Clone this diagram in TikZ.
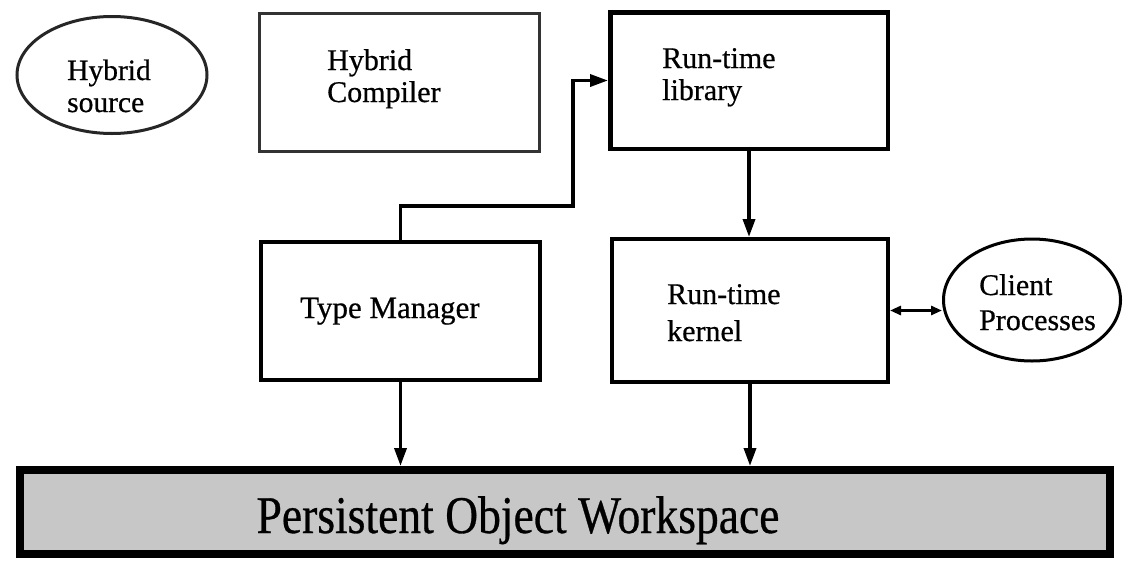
\documentclass[tikz,border=0pt]{standalone}
\usepackage{fontspec}
\setmainfont{Liberation Serif}[FakeBold=0.6]
\usetikzlibrary{arrows.meta,shapes.geometric}
\newcommand{\twoln}[2]{\begin{tabular}[t]{@{}l@{}}#1\\#2\end{tabular}}
\begin{document}
\begin{tikzpicture}[x=1pt,y=-1pt,
  boxnode/.style={draw=black, line width=4pt, rectangle, inner sep=0pt},
  ovalnode/.style={draw=black, line width=3pt, ellipse, inner sep=0pt},
  lbl/.style={anchor=base west, inner sep=0pt, align=left},
  conn/.style={line width=3.5pt, -{Triangle[length=18pt,width=12pt]}},
  dblconn/.style={line width=3pt, {Triangle[length=11pt,width=9pt]}-{Triangle[length=11pt,width=9pt]}}
]
\useasboundingbox (0,0) rectangle (1126,560);

% shapes
\node[ovalnode, draw=black!85, minimum width=190pt, minimum height=117pt] (src) at (112,75) {};
\node[boxnode, draw=black!80, line width=2.5pt, minimum width=280pt, minimum height=138pt] (comp) at (399.5,82.5) {};
\node[boxnode, line width=4.5pt, minimum width=277.5pt, minimum height=136.5pt] (lib) at (749,80.5) {};
\node[boxnode, minimum width=279pt, minimum height=138pt] (tm) at (400.5,311) {};
\node[boxnode, minimum width=276pt, minimum height=143pt] (ker) at (750,310.5) {};
\node[ovalnode, minimum width=177pt, minimum height=122pt] (cli) at (1032,300) {};
\node[boxnode, line width=8pt, fill=black!22, minimum width=1090pt, minimum height=84pt] (bar) at (565,512) {};

% labels
\node[lbl] (srct) at (67,80) {\fontsize{29.5}{32}\selectfont\twoln{Hybrid}{source}};
\node[lbl] (compt) at (327,70) {\fontsize{30}{32}\selectfont\twoln{Hybrid}{Compiler}};
\node[lbl] (libt) at (662,68) {\fontsize{30}{32}\selectfont\twoln{Run-time}{library}};
\node[lbl] (tmt) at (300,318) {\fontsize{31}{33}\selectfont Type Manager};
\node[lbl] (kert) at (667,304) {\fontsize{30}{37}\selectfont\twoln{Run-time}{kernel}};
\node[lbl] (clit) at (979,295) {\fontsize{30}{35}\selectfont\twoln{Client}{Processes}};
\node[anchor=base, inner sep=0pt] (bart) at (518,533) {\fontsize{53}{60}\selectfont\scalebox{0.86}[1]{Persistent Object Workspace}};

% connectors
\coordinate (bendA) at (573,206);
\draw[conn] (tm.north) |- (bendA) |- (lib.west);
\draw[conn] (lib.south) -- (lib.south |- ker.north);
\draw[conn] (tm.south) -- (tm.south |- bar.north);
\draw[conn] (ker.south) -- (ker.south |- bar.north);
\draw[dblconn] (ker.east) -- (ker.east -| cli.west);
\end{tikzpicture}
\end{document}
